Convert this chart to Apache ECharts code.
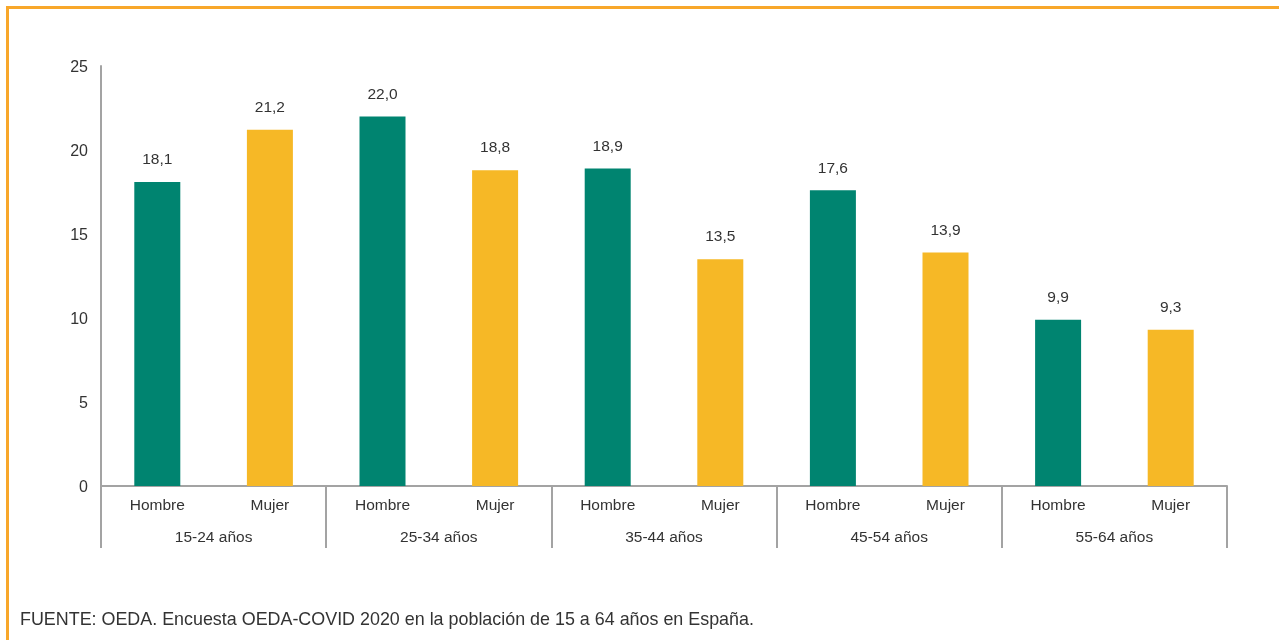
<!DOCTYPE html>
<html>
<head>
<meta charset="utf-8">
<script src="https://cdn.jsdelivr.net/npm/echarts@6/dist/echarts.min.js"></script>
<style>html,body{margin:0;padding:0;background:#fff}#c{width:1279px;height:640px}</style>
</head>
<body>
<div id="c"></div>
<script>
const sexes = ['Hombre','Mujer','Hombre','Mujer','Hombre','Mujer','Hombre','Mujer','Hombre','Mujer'];
const groups = ['15-24 años','25-34 años','35-44 años','45-54 años','55-64 años'];
const values = [18.1, 21.2, 22.0, 18.8, 18.9, 13.5, 17.6, 13.9, 9.9, 9.3];
const yTicks = [0, 5, 10, 15, 20, 25];
const source = 'FUENTE: OEDA. Encuesta OEDA-COVID 2020 en la población de 15 a 64 años en España.';

const FONT = 'Helvetica, Arial, "Liberation Sans", sans-serif';
const TEAL = '#008470';
const YELLOW = '#F6B826';
const AXIS = '#A3A3A3';
const chart = echarts.init(document.getElementById('c'));
chart.setOption({
  animation: false,
  textStyle: {fontFamily: FONT},
  grid: {left: 101, right: 52, top: 66, bottom: 154, containLabel: false},
  xAxis: [
    {
      type: 'category', data: sexes, position: 'bottom',
      axisLine: {show: true, lineStyle: {color: AXIS, width: 2}},
      axisTick: {show: false},
      axisLabel: {interval: 0, margin: 12, fontSize: 15.5, color: '#333', fontFamily: FONT}
    },
    {
      type: 'category', data: groups, position: 'bottom',
      axisLine: {show: false},
      axisTick: {show: true, length: 62, lineStyle: {color: AXIS, width: 2}},
      axisLabel: {interval: 0, margin: 44, fontSize: 15.5, color: '#333', fontFamily: FONT}
    }
  ],
  yAxis: {
    type: 'value', min: 0, max: 25, interval: 5,
    axisLine: {show: true, lineStyle: {color: AXIS, width: 2}},
    axisTick: {show: false},
    splitLine: {show: false},
    axisLabel: {margin: 13, color: '#333', fontFamily: FONT,
      rich: {t: {fontSize: 16, color: '#333', fontFamily: FONT, padding: [4, 0, 0, 0]}},
      formatter: v => yTicks.includes(v) ? '{t|' + v + '}' : ''}
  },
  series: [{
    type: 'bar', xAxisIndex: 0, data: values, barWidth: 46,
    itemStyle: {color: p => p.dataIndex % 2 === 0 ? TEAL : YELLOW},
    label: {show: true, position: 'top', distance: 14, fontSize: 15.5, color: '#333', fontFamily: FONT,
      formatter: p => p.value.toFixed(1).replace('.', ',')}
  }],
  graphic: [
    {type: 'rect', shape: {x: 7.5, y: 7.5, width: 1300, height: 700}, style: {fill: 'none', stroke: '#F8A72A', lineWidth: 3}, silent: true},
    {type: 'text', left: 20, top: 611, style: {text: source, fontSize: 17.9, fill: '#333', fontFamily: FONT}}
  ]
});
</script>
</body>
</html>
